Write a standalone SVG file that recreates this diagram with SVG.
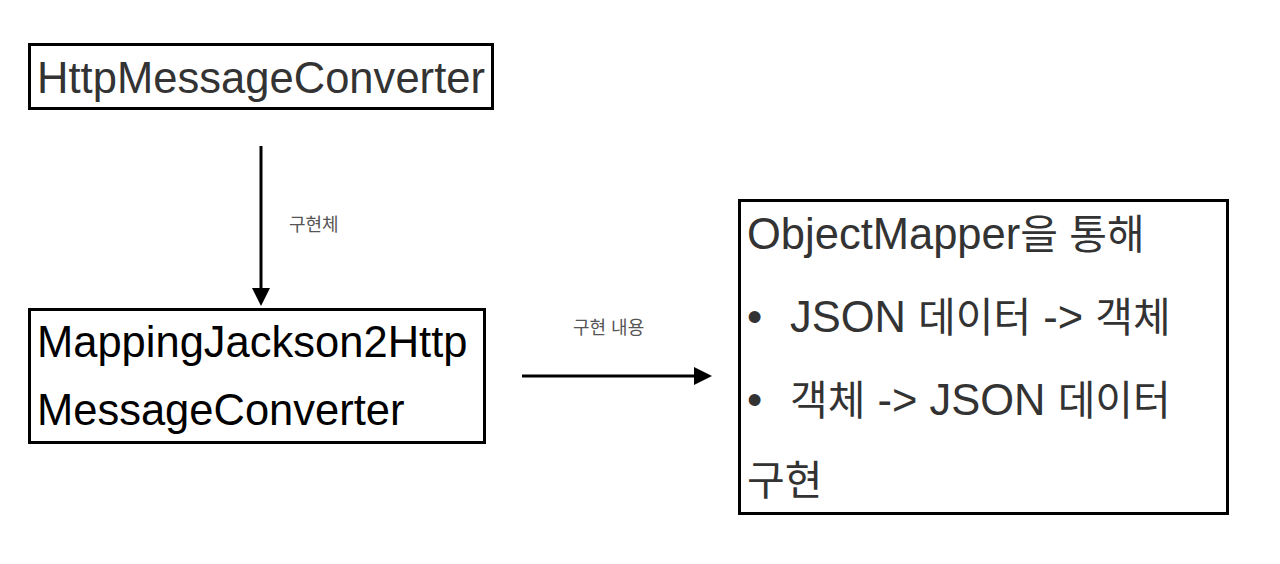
<svg xmlns="http://www.w3.org/2000/svg" width="1280" height="564" viewBox="0 0 1280 564">
<style>
.box{fill:#fff;stroke:#000;stroke-width:3}
.t{font-family:"Liberation Sans","Noto Sans CJK KR",sans-serif;font-size:43.5px}
.ko{font-size:41px}
.g{fill:#333}
.k{fill:#000}
.lbl{font-family:"Liberation Sans","Noto Sans CJK KR",sans-serif;font-size:18px;fill:#555}
.edge{stroke:#000;stroke-width:3;fill:none}
</style>
<defs>
<marker id="ah" markerWidth="6" markerHeight="6" refX="0" refY="3" orient="auto" markerUnits="strokeWidth" viewBox="0 0 6 6">
<path d="M0,0 L6,3 L0,6 Z" fill="#000"/>
</marker>
</defs>
<rect width="1280" height="564" fill="#fff"/>
<g id="node-http">
<rect class="box" x="29.5" y="44.5" width="463" height="64"/>
<text class="t g" x="37" y="93" textLength="448">HttpMessageConverter</text>
</g>
<g id="node-jackson">
<rect class="box" x="29.5" y="309.5" width="455" height="133"/>
<text class="t k" x="37" y="357">MappingJackson2Http</text>
<text class="t k" x="37" y="425">MessageConverter</text>
</g>
<g id="node-objectmapper">
<rect class="box" x="739.5" y="200.5" width="488" height="313"/>
<text class="t g" x="747" y="249">ObjectMapper<tspan class="ko">을 통해</tspan></text>
<text class="t g" x="747" y="332">•</text>
<text class="t g" x="790" y="332">JSON <tspan class="ko">데이터</tspan> -&gt; <tspan class="ko">객체</tspan></text>
<text class="t g" x="747" y="415">•</text>
<text class="t g" x="790" y="415"><tspan class="ko">객체</tspan> -&gt; JSON <tspan class="ko">데이터</tspan></text>
<text class="t g" x="747" y="495"><tspan class="ko">구현</tspan></text>
</g>
<g id="connectors">
<line class="edge" x1="261" y1="146" x2="261" y2="288" marker-end="url(#ah)"/>
<text class="lbl" x="289" y="231">구현체</text>
<line class="edge" x1="522" y1="376" x2="694" y2="376" marker-end="url(#ah)"/>
<text class="lbl" x="573" y="334">구현 내용</text>
</g>
</svg>
